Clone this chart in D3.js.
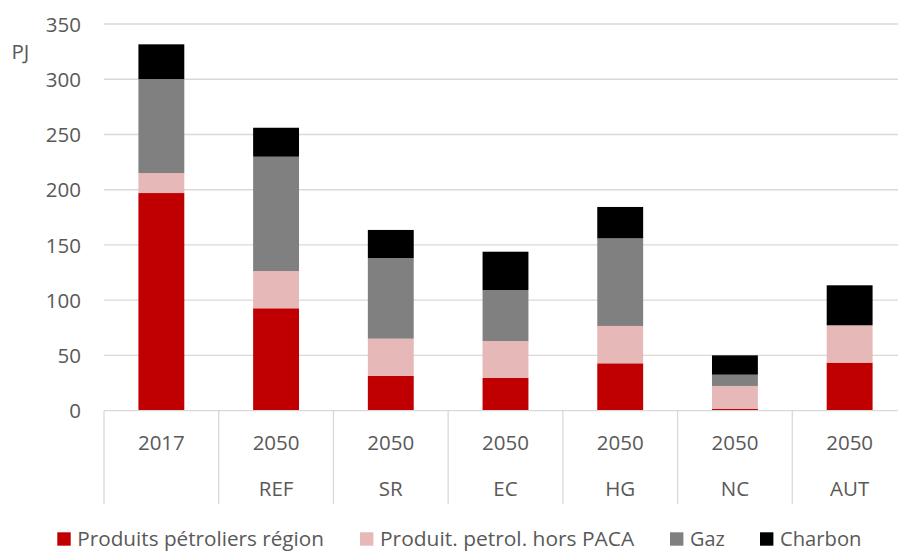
<!DOCTYPE html>
<html>
<head>
<meta charset="utf-8">
<script src="https://cdn.jsdelivr.net/npm/d3@7"></script>
<style>
  html, body { margin: 0; padding: 0; background: #fff; }
  svg { display: block; }
  text { font-family: "Open Sans", "Noto Sans", sans-serif; fill: #595959; }
</style>
</head>
<body>
<svg id="chart" width="898" height="551"></svg>
<script>
// ---- data ----
const years = ["2017", "2050", "2050", "2050", "2050", "2050", "2050"];
const scenarios = ["", "REF", "SR", "EC", "HG", "NC", "AUT"];
const seriesNames = ["Produits pétroliers région", "Produit. petrol. hors PACA", "Gaz", "Charbon"];
const petroleRegion = [197.0, 92.7, 31.4, 29.6, 42.9, 1.8, 43.5];
const petroleHorsPaca = [18.1, 33.7, 33.8, 33.5, 33.8, 20.6, 33.8];
const gaz = [85.1, 103.5, 73.0, 46.1, 79.3, 10.2, 0.0];
const charbon = [31.4, 26.2, 25.4, 34.7, 28.4, 17.5, 36.2];
const yTicks = [0, 50, 100, 150, 200, 250, 300, 350];
const colors = ["#C00000", "#E6B8B7", "#808080", "#000000"];

// ---- layout ----
const svg = d3.select("#chart");
const plotLeft = 104, plotRight = 907, plotTop = 24, plotBottom = 410.7;

const idx = d3.range(years.length);
const x = d3.scaleBand().domain(idx).range([plotLeft, plotRight]).padding(0);
const y = d3.scaleLinear().domain([0, 350]).range([plotBottom, plotTop]);
const barW = x.bandwidth() * 0.4;

const rows = idx.map(i => ({
  i,
  s0: petroleRegion[i], s1: petroleHorsPaca[i], s2: gaz[i], s3: charbon[i]
}));
const stacked = d3.stack().keys(["s0", "s1", "s2", "s3"])(rows);

// gridlines
svg.append("g").selectAll("line").data(yTicks.filter(t => t > 0)).join("line")
  .attr("x1", plotLeft).attr("x2", plotRight)
  .attr("y1", d => y(d)).attr("y2", d => y(d))
  .attr("stroke", "#D9D9D9").attr("stroke-width", 1.3);

// y labels
svg.append("g").selectAll("text").data(yTicks).join("text")
  .attr("x", 81).attr("y", d => y(d) + 7.6)
  .attr("text-anchor", "end")
  .style("font-size", "20.5px")
  .text(d => d);

// unit label
svg.append("text").attr("x", 11.5).attr("y", 59.3)
  .style("font-size", "20.5px").text("PJ");

// bars
svg.append("g").selectAll("g").data(stacked).join("g")
  .attr("fill", (d, k) => colors[k])
  .selectAll("rect").data(d => d).join("rect")
  .attr("x", d => x(d.data.i) + (x.bandwidth() - barW) / 2)
  .attr("width", barW)
  .attr("y", d => y(d[1]))
  .attr("height", d => Math.max(0, y(d[0]) - y(d[1])));

// x axis line
svg.append("line").attr("x1", plotLeft).attr("x2", plotRight)
  .attr("y1", plotBottom).attr("y2", plotBottom)
  .attr("stroke", "#D9D9D9").attr("stroke-width", 1.3);

// category separators
const edges = idx.map(i => x(i)).concat([plotRight]);
svg.append("g").selectAll("line").data(edges).join("line")
  .attr("x1", d => d).attr("x2", d => d)
  .attr("y1", plotBottom).attr("y2", 504)
  .attr("stroke", "#D9D9D9").attr("stroke-width", 1.3);

// x labels
const xl = svg.append("g");
xl.selectAll("text.yr").data(idx).join("text").attr("class", "yr")
  .attr("x", i => x(i) + x.bandwidth() / 2).attr("y", 450)
  .attr("text-anchor", "middle").style("font-size", "20.5px")
  .text(i => years[i]);
xl.selectAll("text.sc").data(idx).join("text").attr("class", "sc")
  .attr("x", i => x(i) + x.bandwidth() / 2).attr("y", 495.7)
  .attr("text-anchor", "middle").style("font-size", "20.5px")
  .text(i => scenarios[i]);

// legend
const legendX = [57.3, 360, 670, 760];
const legendW = [246.7, 254.3, 34.7, 81.4];
const lg = svg.append("g").selectAll("g").data(seriesNames).join("g");
lg.append("rect")
  .attr("x", (d, k) => legendX[k]).attr("y", 532.3)
  .attr("width", 13.4).attr("height", 13.4)
  .attr("fill", (d, k) => colors[k]);
lg.append("text")
  .attr("x", (d, k) => legendX[k] + 20).attr("y", 545.6)
  .style("font-size", "20.5px")
  .attr("textLength", (d, k) => legendW[k])
  .attr("lengthAdjust", "spacingAndGlyphs")
  .text(d => d);
</script>
</body>
</html>
